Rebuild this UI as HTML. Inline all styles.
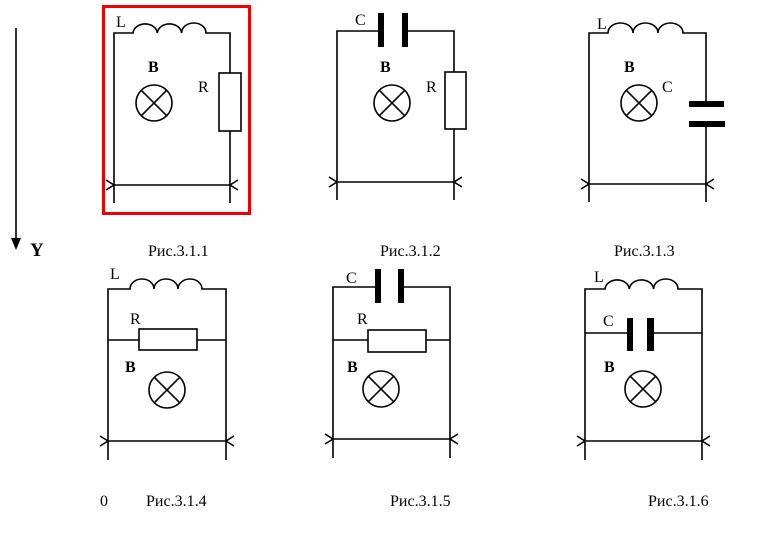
<!DOCTYPE html>
<html><head><meta charset="utf-8"><style>
html,body{margin:0;padding:0;background:#fff;}
svg{display:block;}
text{font-family:"Liberation Serif",serif;fill:#000;}
</style></head><body>
<svg width="761" height="539" viewBox="0 0 761 539" xmlns="http://www.w3.org/2000/svg">
<g stroke="#000" stroke-width="1.6" fill="none">
<!-- Y axis -->
<line x1="16" y1="28" x2="16" y2="240"/>
<!-- Fig1 -->
<path d="M114 203 V33 H133 A12.2 10 0 0 1 157.3 33 A12.2 10 0 0 1 181.6 33 A12.2 10 0 0 1 206 33 H230 V73 M230 131 V203"/>
<rect x="219" y="73" width="22" height="58"/>
<line x1="114" y1="185" x2="230" y2="185"/>
<path d="M106 180 L114 185 L106 190 M238 180 L230 185 L238 190"/>
<circle cx="154" cy="103" r="18"/>
<path d="M141.3 90.3 L166.7 115.7 M166.7 90.3 L141.3 115.7"/>
<!-- Fig2 -->
<path d="M337 200 V31 H380 M407 31 H454 V72 M454 129 V200"/>
<rect x="445" y="72" width="21" height="57"/>
<line x1="337" y1="182" x2="454" y2="182"/>
<path d="M329 177 L337 182 L329 187 M462 177 L454 182 L462 187"/>
<circle cx="392" cy="103" r="18"/>
<path d="M379.3 90.3 L404.7 115.7 M404.7 90.3 L379.3 115.7"/>
<!-- Fig3 -->
<path d="M589 202 V33 H608 A12.5 10 0 0 1 633 33 A12.5 10 0 0 1 658 33 A12.5 10 0 0 1 683 33 H706 V104 M706 124 V202"/>
<line x1="589" y1="184" x2="706" y2="184"/>
<path d="M581 179 L589 184 L581 189 M714 179 L706 184 L714 189"/>
<circle cx="639" cy="103" r="18"/>
<path d="M626.3 90.3 L651.7 115.7 M651.7 90.3 L626.3 115.7"/>
<!-- Fig4 -->
<path d="M108 460 V289 H130 A12 10 0 0 1 154 289 A12 10 0 0 1 178 289 A12 10 0 0 1 202 289 H226 V460"/>
<path d="M108 340 H139 M197 340 H226"/>
<rect x="139" y="329" width="58" height="21"/>
<line x1="108" y1="441" x2="226" y2="441"/>
<path d="M100 436 L108 441 L100 446 M234 436 L226 441 L234 446"/>
<circle cx="167" cy="390" r="18"/>
<path d="M154.3 377.3 L179.7 402.7 M179.7 377.3 L154.3 402.7"/>
<!-- Fig5 -->
<path d="M333 458 V287 H378 M402 287 H450 V458"/>
<path d="M333 340 H368 M426 340 H450"/>
<rect x="368" y="330" width="58" height="22"/>
<line x1="333" y1="439" x2="450" y2="439"/>
<path d="M325 434 L333 439 L325 444 M458 434 L450 439 L458 444"/>
<circle cx="381" cy="389" r="18"/>
<path d="M368.3 376.3 L393.7 401.7 M393.7 376.3 L368.3 401.7"/>
<!-- Fig6 -->
<path d="M585 460 V289 H605 A12.2 10 0 0 1 629.3 289 A12.2 10 0 0 1 653.6 289 A12.2 10 0 0 1 678 289 H702 V460"/>
<path d="M585 333 H627 M654 333 H702"/>
<line x1="585" y1="441" x2="702" y2="441"/>
<path d="M577 436 L585 441 L577 446 M710 436 L702 441 L710 446"/>
<circle cx="643" cy="389" r="18"/>
<path d="M630.3 376.3 L655.7 401.7 M655.7 376.3 L630.3 401.7"/>
</g>
<!-- capacitor plates -->
<g fill="#000">
<rect x="378" y="13" width="6" height="34"/><rect x="402" y="13" width="6" height="34"/>
<rect x="689" y="101" width="35" height="6"/><rect x="689" y="121" width="36" height="6"/>
<rect x="375" y="269" width="6" height="34"/><rect x="398" y="269" width="6" height="34"/>
<rect x="627" y="318" width="6" height="33"/><rect x="647" y="318" width="7" height="33"/>
<path d="M11 238 L21 238 L16 250 Z"/>
</g>
<!-- red box -->
<rect x="103.5" y="6.5" width="146" height="207" fill="none" stroke="#e00" stroke-width="3"/>
<!-- labels -->
<g font-size="16">
<text x="116" y="27">L</text>
<text x="198" y="92">R</text>
<text x="355" y="25">C</text>
<text x="426" y="92">R</text>
<text x="597" y="29">L</text>
<text x="662" y="92">C</text>
<text x="110" y="279">L</text>
<text x="130" y="324">R</text>
<text x="346" y="283">C</text>
<text x="357" y="324">R</text>
<text x="594" y="282">L</text>
<text x="603" y="326">C</text>
<text x="148" y="256">Рис.3.1.1</text>
<text x="380" y="256">Рис.3.1.2</text>
<text x="614" y="256">Рис.3.1.3</text>
<text x="100" y="506">0</text>
<text x="146" y="506">Рис.3.1.4</text>
<text x="390" y="506">Рис.3.1.5</text>
<text x="648" y="506">Рис.3.1.6</text>
</g>
<g font-size="16" font-weight="bold">
<text x="148" y="72">B</text>
<text x="380" y="72">B</text>
<text x="624" y="72">B</text>
<text x="125" y="372">B</text>
<text x="347" y="372">B</text>
<text x="604" y="372">B</text>
<text x="30" y="256" font-size="19">Y</text>
</g>
</svg>
</body></html>
